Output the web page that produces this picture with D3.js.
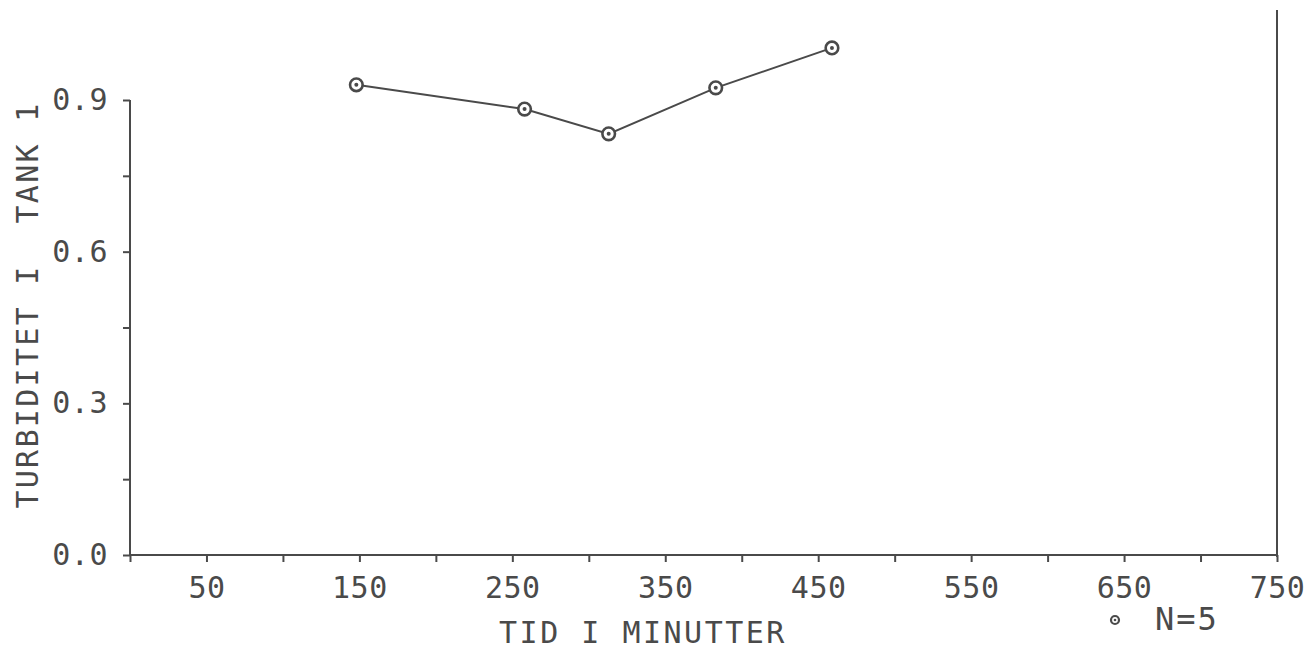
<!DOCTYPE html>
<html>
<head>
<meta charset="utf-8">
<script src="https://cdn.jsdelivr.net/npm/d3@7"></script>
<style>
  html, body { margin: 0; padding: 0; background: #fff; }
  svg { display: block; }
  text { font-family: "DejaVu Sans Mono", monospace; fill: #4a4a4a; }
</style>
</head>
<body>
<svg id="chart" width="1312" height="650"></svg>
<script>
// Data
const times = [148, 258, 313, 383, 459];
const turbidity = [0.930, 0.882, 0.833, 0.924, 1.003];
const xTicks = [0, 50, 100, 150, 200, 250, 300, 350, 400, 450, 500, 550, 600, 650, 700, 750];
const xLabelled = [50, 150, 250, 350, 450, 550, 650, 750];
const yTicks = [0, 0.15, 0.3, 0.45, 0.6, 0.75, 0.9];
const yLabelled = [0, 0.3, 0.6, 0.9];
const xTitle = "TID I MINUTTER";
const yTitle = "TURBIDITET I  TANK 1";
const legendLabel = "N=5";

const ink = "#4a4a4a";
const svg = d3.select("#chart");

const x = d3.scaleLinear().domain([0, 750]).range([130, 1277]);
const y = d3.scaleLinear().domain([0, 0.9]).range([555, 100]);

// X axis
const gx = svg.append("g").attr("transform", `translate(0,${y(0)})`)
  .call(d3.axisBottom(x).tickValues(xTicks).tickSize(7).tickPadding(15)
    .tickFormat(d => xLabelled.includes(d) ? d3.format("d")(d) : ""));
gx.select(".domain").attr("stroke", ink).attr("stroke-width", 2).attr("d", `M${x(0)},0H${x(750)}`);
gx.selectAll(".tick line").attr("stroke", ink).attr("stroke-width", 2);
gx.selectAll(".tick text").attr("font-size", 30).attr("letter-spacing", 0.5)
  .attr("font-family", "DejaVu Sans Mono").attr("fill", ink);

// Y axis
const gy = svg.append("g").attr("transform", `translate(${x(0)},0)`)
  .call(d3.axisLeft(y).tickValues(yTicks).tickSize(7).tickPadding(15)
    .tickFormat(d => yLabelled.includes(d) ? d3.format(".1f")(d) : ""));
gy.select(".domain").attr("stroke", ink).attr("stroke-width", 2).attr("d", `M0,${y(0.9)}V${y(0)}`);
gy.selectAll(".tick line").attr("stroke", ink).attr("stroke-width", 2);
gy.selectAll(".tick text").attr("font-size", 30).attr("letter-spacing", 0.5)
  .attr("font-family", "DejaVu Sans Mono").attr("fill", ink);

// Right frame line
svg.append("line")
  .attr("x1", x(750)).attr("x2", x(750))
  .attr("y1", 10).attr("y2", y(0) + 2)
  .attr("stroke", ink).attr("stroke-width", 2);

// Axis titles
svg.append("text")
  .attr("x", 643).attr("y", 643)
  .attr("text-anchor", "middle")
  .attr("font-size", 30).attr("letter-spacing", 2.5)
  .text(xTitle);

svg.append("text")
  .attr("transform", `translate(38,305) rotate(-90)`)
  .attr("text-anchor", "middle")
  .attr("font-size", 30).attr("letter-spacing", 2.3)
  .attr("xml:space", "preserve")
  .style("white-space", "pre")
  .text(yTitle);

// Line
const pts = times.map((t, i) => [t, turbidity[i]]);
svg.append("path")
  .datum(pts)
  .attr("fill", "none")
  .attr("stroke", ink)
  .attr("stroke-width", 2)
  .attr("d", d3.line().x(d => x(d[0])).y(d => y(d[1])));

// Markers
const mk = svg.append("g").selectAll("g").data(pts).join("g")
  .attr("transform", d => `translate(${x(d[0])},${y(d[1])})`);
mk.append("circle").attr("r", 6.3).attr("fill", "#fff").attr("stroke", ink).attr("stroke-width", 2.6);
mk.append("circle").attr("r", 2).attr("fill", ink);

// Legend
const lg = svg.append("g").attr("transform", "translate(1115,620)");
lg.append("circle").attr("r", 4).attr("fill", "#fff").attr("stroke", ink).attr("stroke-width", 2.2);
lg.append("circle").attr("r", 1.3).attr("fill", ink);
svg.append("text").attr("x", 1155).attr("y", 630)
  .attr("font-size", 32).attr("letter-spacing", 2)
  .text(legendLabel);
</script>
</body>
</html>
